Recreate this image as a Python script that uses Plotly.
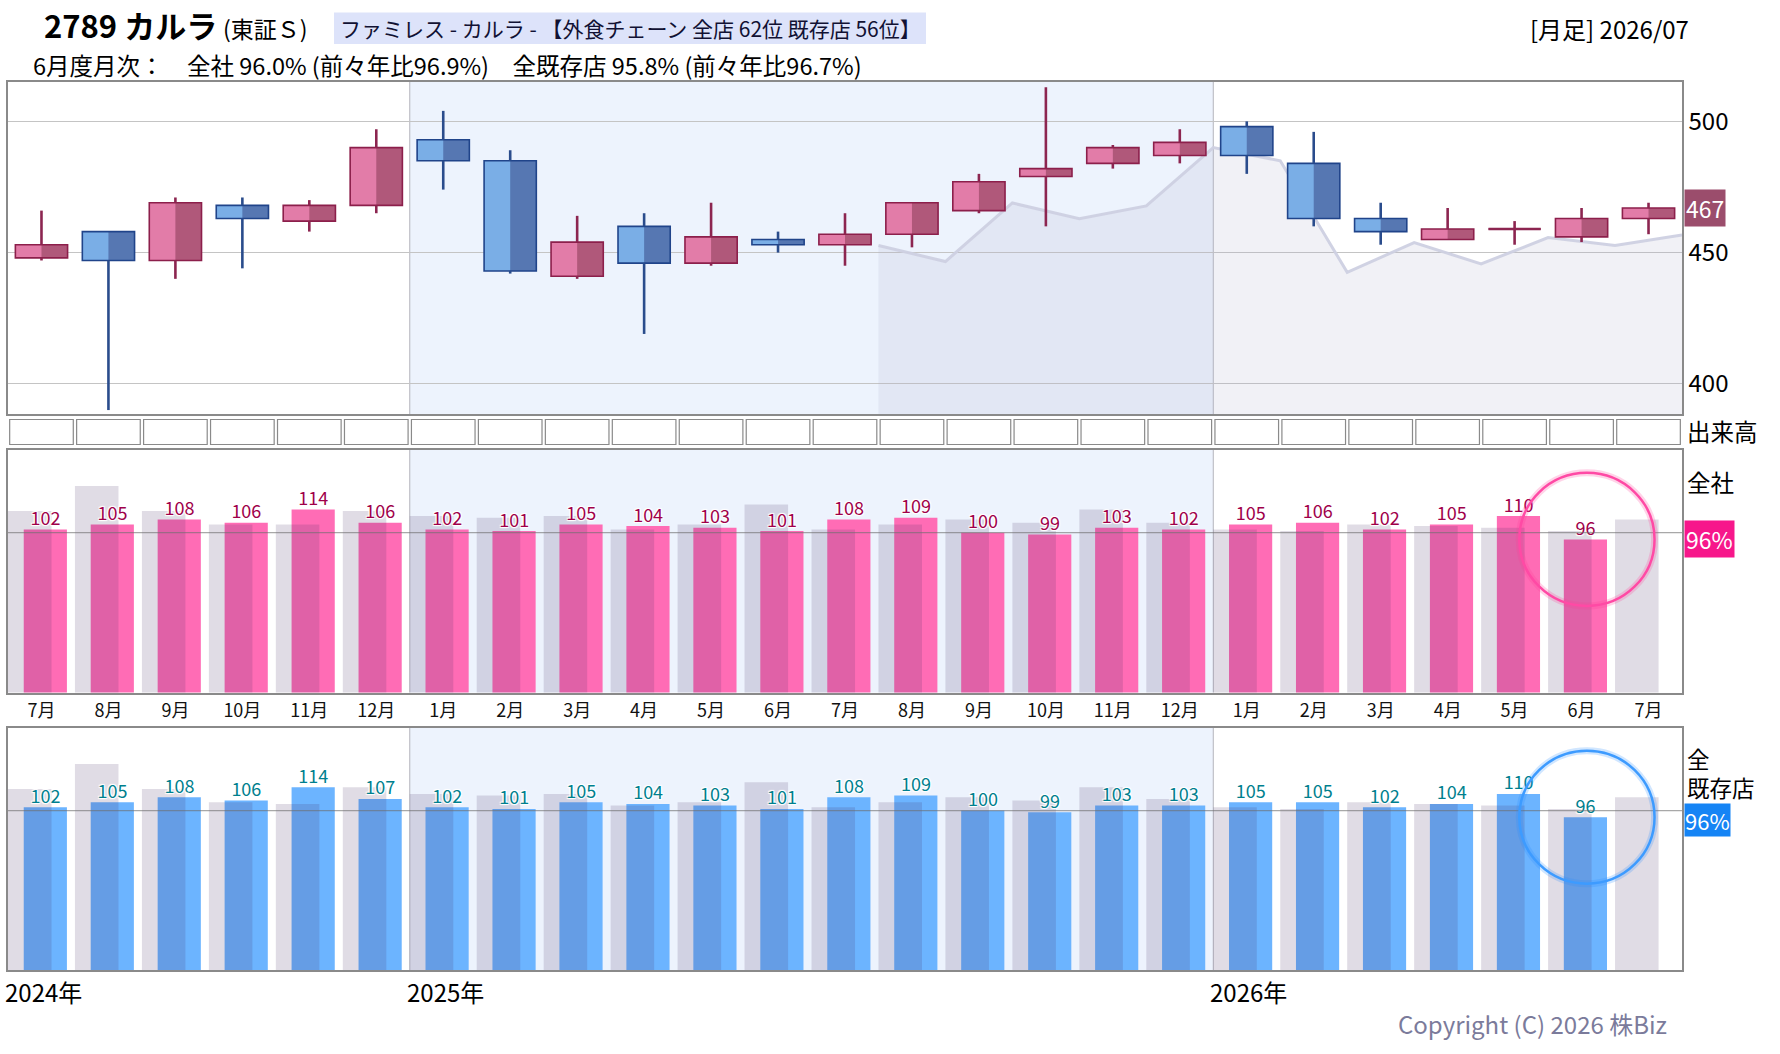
import plotly.graph_objects as go

# ---------------- data ----------------
periods = ["2024-07", "2024-08", "2024-09", "2024-10", "2024-11", "2024-12",
           "2025-01", "2025-02", "2025-03", "2025-04", "2025-05", "2025-06",
           "2025-07", "2025-08", "2025-09", "2025-10", "2025-11", "2025-12",
           "2026-01", "2026-02", "2026-03", "2026-04", "2026-05", "2026-06",
           "2026-07"]

open_ = [448, 458, 447, 468, 462, 468, 493, 485, 441, 460, 446, 455, 453,
         457, 466, 479, 484, 487, 498, 484, 463, 455, 459, 456, 463]
high = [466, 458, 471, 471, 470, 497, 504, 489, 464, 465, 469, 458, 465,
        469, 480, 513, 491, 497, 500, 496, 469, 467, 462, 467, 469]
low = [447, 390, 440, 444, 458, 465, 474, 442, 440, 419, 445, 450, 445,
       452, 465, 460, 482, 484, 480, 460, 453, 455, 453, 454, 457]
close = [453, 447, 469, 463, 468, 490, 485, 443, 454, 446, 456, 453, 457,
         469, 477, 482, 490, 492, 487, 463, 458, 459, 459, 463, 467]

# moving-average line (drawn on slot boundaries, starting at the left edge of 2025-08)
ma_start = 13
ma_values = [452.7, 446.6, 468.9, 462.9, 467.8, 490.0, 485.0, 442.5, 453.8,
             445.7, 455.7, 452.7, 456.7]

# monthly sales YoY (%)
zensha = [102, 105, 108, 106, 114, 106, 102, 101, 105, 104, 103, 101, 108,
          109, 100, 99, 103, 102, 105, 106, 102, 105, 110, 96, None]
zensha_prev = [113, 128, 113, 105, 105, 113, 110, 109, 110, 102, 105, 117, 102,
               105, 108, 106, 114, 106, 102, 101, 105, 104, 103, 101, 108]
kizon = [102, 105, 108, 106, 114, 107, 102, 101, 105, 104, 103, 101, 108,
         109, 100, 99, 103, 103, 105, 105, 102, 104, 110, 96, None]
kizon_prev = [113, 128, 113, 105, 104, 114, 110, 109, 110, 103, 105, 117, 102,
              105, 108, 106, 114, 107, 102, 101, 105, 104, 103, 101, 108]

price_ticks = [400, 450, 500]
baseline = 100
volume_cells = [1] * len(periods)  # empty volume row (no volume data shown)

title_main = "2789 カルラ"
title_market = "(東証Ｓ)"
header_box = "ファミレス - カルラ - 【外食チェーン 全店 62位 既存店 56位】"
subtitle = "6月度月次：　全社 96.0% (前々年比96.9%)　全既存店 95.8% (前々年比96.7%)"
period_label = "[月足] 2026/07"
copyright_txt = "Copyright (C) 2026 株Biz"

# ---------------- styles ----------------
W, H = 1780, 1054
FONT = "Noto Sans CJK JP"
FRAME = "#8a8a8a"
BLUE_BG = "#edf3fd"
PINK_L, PINK_R, PINK_B = "#e27ca8", "#b0587a", "#8c1f4b"
BLUE_L, BLUE_R, BLUE_B = "#7aaee6", "#5677b2", "#20448a"
PINK_W, BLUE_W = "#8c2550", "#2a4c8c"
PINK_BAR = "#ff6cb5"
BLUE_BAR = "#6cb4ff"
GRAY_BAR = "rgba(70,50,100,0.17)"


def px(x):
    return x / W


def py(y):
    return 1 - y / H


idx = list(range(len(periods)))
month_labels = [f"{int(p[5:])}月" for p in periods]
years = [p[:4] for p in periods]
year_starts = [i for i in idx if i == 0 or years[i] != years[i - 1]]
year_bounds = [i - 0.5 for i in year_starts]
shade_x0, shade_x1 = year_bounds[1], year_bounds[2]

fig = go.Figure()

# ---- MA area (base price subplot) ----
ma_x = [ma_start + k - 0.5 for k in range(len(ma_values))]
fig.add_trace(go.Scatter(x=ma_x, y=ma_values, mode="lines", fill="tozeroy",
                         fillcolor="rgba(175,180,205,0.18)",
                         line=dict(color="rgba(205,208,225,0.95)", width=3),
                         xaxis="x", yaxis="y", hoverinfo="skip", showlegend=False))

# ---- candles (overlay subplot, drawn above MA) ----
up = [c >= o for o, c in zip(open_, close)]
body_base = [min(o, c) for o, c in zip(open_, close)]
body_h = [abs(c - o) for o, c in zip(open_, close)]
BW = 0.78
fig.add_trace(go.Bar(x=idx, y=body_h, base=body_base, width=BW, offset=-BW / 2,
                     marker=dict(color=[PINK_R if u else BLUE_R for u in up], line=dict(width=0)),
                     xaxis="x", yaxis="y5", hoverinfo="skip", showlegend=False))
fig.add_trace(go.Bar(x=idx, y=body_h, base=body_base, width=BW / 2, offset=-BW / 2,
                     marker=dict(color=[PINK_L if u else BLUE_L for u in up], line=dict(width=0)),
                     xaxis="x", yaxis="y5", hoverinfo="skip", showlegend=False))
fig.add_trace(go.Bar(x=idx, y=body_h, base=body_base, width=BW, offset=-BW / 2,
                     marker=dict(color="rgba(0,0,0,0)",
                                 line=dict(color=[PINK_B if u else BLUE_B for u in up], width=1.6)),
                     xaxis="x", yaxis="y5", hoverinfo="skip", showlegend=False))


def wick_xy(want_up):
    xs, ys = [], []
    for i in idx:
        if up[i] != want_up:
            continue
        o, c, h, l = open_[i], close[i], high[i], low[i]
        top, bot = max(o, c), min(o, c)
        if h > top:
            xs += [i, i, None]
            ys += [h, top, None]
        if l < bot:
            xs += [i, i, None]
            ys += [bot, l, None]
        if o == c:
            xs += [i - BW / 2, i + BW / 2, None]
            ys += [o, o, None]
    return xs, ys


for want, col in ((True, PINK_W), (False, BLUE_W)):
    wx, wy = wick_xy(want)
    fig.add_trace(go.Scatter(x=wx, y=wy, mode="lines", line=dict(color=col, width=2.6),
                             xaxis="x", yaxis="y5", hoverinfo="skip", showlegend=False))

# ---- volume row (empty cells) ----
fig.add_trace(go.Bar(x=idx, y=volume_cells, width=0.95, offset=-0.475,
                     marker=dict(color="white", line=dict(color="#8a8a8a", width=1.2)),
                     xaxis="x2", yaxis="y2", hoverinfo="skip", showlegend=False))

# ---- YoY panels ----
SHADOW = "1px 1px 1px #fff, -1px -1px 1px #fff, 1px -1px 1px #fff, -1px 1px 1px #fff"
for vals, prev, col, tcol, xa, ya in ((zensha, zensha_prev, PINK_BAR, "#a0004a", "x3", "y3"),
                                       (kizon, kizon_prev, BLUE_BAR, "#007f8e", "x4", "y4")):
    fig.add_trace(go.Bar(x=idx, y=vals, width=0.645, offset=-0.265,
                         marker=dict(color=col, line=dict(width=0)),
                         xaxis=xa, yaxis=ya, hoverinfo="skip", showlegend=False))
    fig.add_trace(go.Bar(x=idx, y=prev, width=0.65, offset=-0.5,
                         marker=dict(color=GRAY_BAR, line=dict(width=0)),
                         xaxis=xa, yaxis=ya, hoverinfo="skip", showlegend=False))
    fig.add_trace(go.Scatter(x=[i + 0.06 for i in idx], y=vals,
                             text=["" if v is None else str(v) for v in vals],
                             mode="text", textposition="top center",
                             textfont=dict(family=FONT, size=18, color=tcol, shadow=SHADOW),
                             xaxis=xa, yaxis=ya, hoverinfo="skip", showlegend=False))

# ---------------- layout ----------------
xdom = [px(8), px(1682)]
common_x = dict(range=[-0.5, 24.5], domain=xdom, showgrid=False, zeroline=False, fixedrange=True)
frame = dict(showline=True, mirror=True, linecolor=FRAME, linewidth=1.5)
price_range = [388.5, 515]
pct_range = [4, 150]

layout = dict(
    width=W, height=H, margin=dict(l=0, r=0, t=0, b=0),
    paper_bgcolor="white", plot_bgcolor="white",
    barmode="overlay", showlegend=False,
    font=dict(family=FONT, color="#000"),
    xaxis=dict(**common_x, anchor="y", showticklabels=False, ticks="", **frame),
    yaxis=dict(domain=[py(414), py(82)], range=price_range, side="right", tickvals=price_ticks,
               showgrid=True, gridcolor="#c4c4c4", gridwidth=1.2, zeroline=False, ticks="",
               tickfont=dict(family=FONT, size=24, color="#000"), anchor="x", **frame),
    yaxis5=dict(overlaying="y", range=price_range, visible=False, anchor="x"),
    xaxis2=dict(**common_x, anchor="y2", showticklabels=False, showline=False, ticks=""),
    yaxis2=dict(domain=[py(446), py(418)], range=[-0.06, 1.06], visible=False, anchor="x2"),
    xaxis3=dict(**common_x, anchor="y3", tickvals=idx, ticktext=month_labels, ticks="",
                ticklabelstandoff=1, tickfont=dict(family=FONT, size=18, color="#111"), **frame),
    yaxis3=dict(domain=[py(692.5), py(449.5)], range=pct_range, showticklabels=False,
                showgrid=False, zeroline=False, ticks="", anchor="x3", **frame),
    xaxis4=dict(**common_x, anchor="y4", showticklabels=False, ticks="", **frame),
    yaxis4=dict(domain=[py(970), py(727.5)], range=pct_range, showticklabels=False,
                showgrid=False, zeroline=False, ticks="", anchor="x4", **frame),
)

shapes = []
for xa, ya in (("x", "y"), ("x3", "y3"), ("x4", "y4")):
    shapes.append(dict(type="rect", xref=xa, yref=f"{ya} domain", x0=shade_x0, x1=shade_x1,
                       y0=0, y1=1, fillcolor=BLUE_BG, line=dict(width=0), layer="below"))
    for b in year_bounds[1:]:
        shapes.append(dict(type="line", xref=xa, yref=f"{ya} domain", x0=b, x1=b, y0=0, y1=1,
                           line=dict(color="#b4b4bc", width=1), layer="below"))
for xa, ya in (("x3", "y3"), ("x4", "y4")):
    shapes.append(dict(type="line", xref=f"{xa} domain", yref=ya, x0=0, x1=1,
                       y0=baseline, y1=baseline,
                       line=dict(color="rgba(110,110,110,0.6)", width=1.2), layer="above"))

# highlight circles around the latest month
last_i = max(i for i in idx if zensha[i] is not None)
for vals, ya, xa, glow, core in ((zensha, "y3", "x3", "rgba(255,60,150,0.22)", "#ff4aa5"),
                                 (kizon, "y4", "x4", "rgba(40,140,255,0.22)", "#3d9bff")):
    v = vals[last_i]
    for lw, colr in ((7, glow), (2.5, core)):
        shapes.append(dict(type="circle", xref=xa, yref=ya, x0=last_i - 0.93, x1=last_i + 1.09,
                           y0=v - 40, y1=v + 40, line=dict(color=colr, width=lw), layer="above"))

# header box
shapes.append(dict(type="rect", xref="paper", yref="paper", x0=px(334), x1=px(926),
                   y0=py(44), y1=py(12.5), fillcolor="#dde3fa", line=dict(width=0), layer="below"))
layout["shapes"] = shapes

anns = []


def ann(text, x, y, size, color="#000", xanchor="left", yanchor="middle", **kw):
    d = dict(text=text, x=x, y=y, xref=kw.pop("xref", "paper"), yref=kw.pop("yref", "paper"),
             xanchor=xanchor, yanchor=yanchor, showarrow=False,
             font=dict(family=FONT, size=size, color=color))
    d.update(kw)
    anns.append(d)


ann(f"<b>{title_main}</b>", px(42), py(25), 31)
ann(title_market, px(221), py(28), 23)
ann(header_box, px(630), py(28), 21, color="#111133", xanchor="center")
ann(period_label, px(1691), py(29), 24, xanchor="right")
ann(subtitle, px(31), py(65), 23.5)
ann(copyright_txt, px(1669), py(1023), 24, color="#7b7b9b", xanchor="right")

ann("出来高", px(1685), py(431), 23.5)
ann("全社", px(1685), py(482), 23.5)
ann("全<br>既存店", px(1685), py(772), 22.5, align="left")

ann(str(close[-1]), px(1684), close[-1], 23, color="white", yref="y",
    bgcolor="#9b4d6c", borderpad=1)
ann(f"{zensha[last_i]}%", px(1684), zensha[last_i], 23, color="white", yref="y3",
    bgcolor="#f7178b", borderpad=1)
ann(f"{kizon[last_i]}%", px(1684), kizon[last_i], 22, color="white", yref="y4",
    bgcolor="#1584f5", borderpad=0, yshift=-3)

for s in year_starts:
    ann(f"{years[s]}年", s - 0.5, py(991), 24, xref="x4", xshift=-5)

layout["annotations"] = anns
fig.update_layout(**layout)

fig.write_html("out.html", config={"displayModeBar": False})
